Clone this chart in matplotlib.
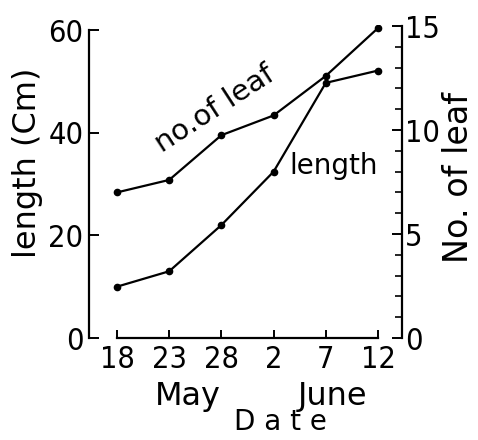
import matplotlib
matplotlib.use("Agg")
import matplotlib.pyplot as plt
from matplotlib import font_manager
from matplotlib.ticker import MultipleLocator

# ---- data ----
date_labels = ['18', '23', '28', '2', '7', '12']
length_cm = [10, 13, 22, 32.4, 49.7, 52.1]
leaf_count = [7, 7.6, 9.75, 10.7, 12.6, 14.9]
left_ticks = [0, 20, 40, 60]
right_ticks = [0, 5, 10, 15]

# ---- font selection ----
entries = font_manager.fontManager.ttflist
names = {f.name for f in entries}
tick_fam = 'DejaVu Sans'
tick_stretch = 'normal'
if any(f.name == 'DejaVu Sans' and f.stretch == 'condensed' for f in entries):
    tick_stretch = 'condensed'
elif 'Liberation Sans Narrow' in names:
    tick_fam = 'Liberation Sans Narrow'
plt.rcParams['font.family'] = ['DejaVu Sans']
TFS = 22

W, H = 478, 440
fig = plt.figure(figsize=(W / 100, H / 100), dpi=100)

def px(x, y):
    return x / W, 1 - y / H

ax = fig.add_axes([89 / W, 1 - 338 / H, 313 / W, 313 / H])
ax.patch.set_alpha(0)
ax2 = ax.twinx()

x = list(range(len(date_labels)))
ax.plot(x, length_cm, color='black', lw=1.6, marker='o', ms=4.5, zorder=3)
ax2.plot(x, leaf_count, color='black', lw=1.6, marker='o', ms=4.5, zorder=3)

ax.set_xlim(-0.536, 5.46)
ax.set_ylim(0, 60 * 313 / 308)
ax2.set_ylim(0, 15 * 313 / 312)

for s in ['top', 'right']:
    ax.spines[s].set_visible(False)
for s in ['top', 'left', 'bottom']:
    ax2.spines[s].set_visible(False)
ax.spines['left'].set_bounds(0, 60)
ax.spines['bottom'].set_bounds(0, 5)
ax2.spines['right'].set_bounds(0, 15)
for sp in [ax.spines['left'], ax.spines['bottom'], ax2.spines['right']]:
    sp.set_linewidth(1.6)

ax.set_xticks(x)
ax.set_xticklabels(date_labels)
ax.set_yticks(left_ticks)
ax2.set_yticks(right_ticks)
ax2.yaxis.set_minor_locator(MultipleLocator(1))

ax.tick_params(axis='x', direction='in', length=6, width=1.4, pad=5, labelsize=TFS)
ax.tick_params(axis='y', direction='in', length=7, width=1.4, pad=4, labelsize=TFS)
ax2.tick_params(axis='y', which='major', direction='in', length=7, width=1.4, pad=2, labelsize=TFS)
ax2.tick_params(axis='y', which='minor', direction='in', length=5, width=1.2)

for lab in ax.get_xticklabels() + ax.get_yticklabels() + ax2.get_yticklabels():
    lab.set_family(tick_fam)
    lab.set_fontstretch(tick_stretch)

# axis labels
fig.text(*px(28, 163), 'length (Cm)', rotation=90, ha='center', va='center', fontsize=23)
fig.text(*px(459, 177), 'No. of leaf', rotation=90, ha='center', va='center', fontsize=24)
fig.text(*px(188, 396), 'May', ha='center', va='center', fontsize=23)
fig.text(*px(333, 396), 'June', ha='center', va='center', fontsize=23)
fig.text(*px(280, 422), 'D a t e', ha='center', va='center', fontsize=20)

# in-plot labels
fig.text(*px(215, 109), 'no.of leaf', rotation=33, rotation_mode='anchor',
         ha='center', va='center', fontsize=21)
fig.text(*px(334, 166), 'length', ha='center', va='center', fontsize=20)

fig.savefig('out.png', dpi=100)
